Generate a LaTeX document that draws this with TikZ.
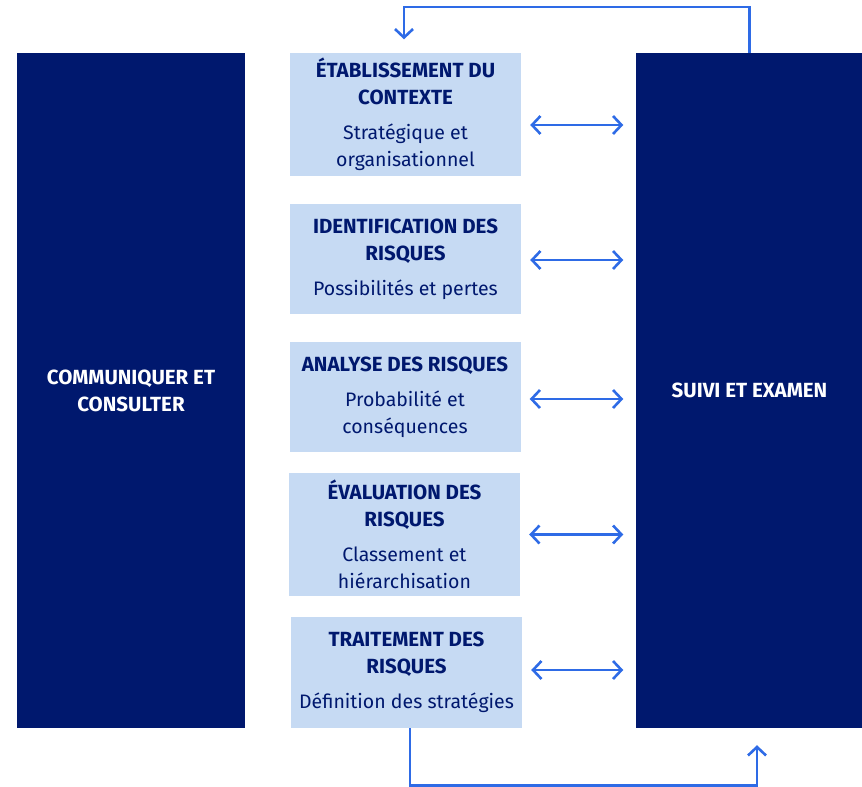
\documentclass[tikz,border=0pt]{standalone}
\usepackage{fontspec}
\setmainfont{Fira Sans}
\usetikzlibrary{arrows.meta}
\definecolor{navy}{HTML}{00186E}
\definecolor{pale}{HTML}{C6DAF3}
\definecolor{linkblue}{HTML}{2E6BE6}
\newcommand{\hd}[1]{{\fontsize{20.5}{27}\selectfont\bfseries #1}}
\begin{document}
\begin{tikzpicture}[x=1pt,y=-1pt]
          \useasboundingbox (0,0) rectangle (862,787);
          \tikzstyle{every node} = [inner sep=0pt, align=center, font=\fontsize{19.5}{27}\selectfont];
          \tikzstyle{side} = [fill=navy, text=white, minimum width=228pt, minimum height=675pt];
          \tikzstyle{stage} = [fill=pale, text=navy, minimum width=231pt];
          \tikzstyle{link} = [draw=linkblue, line width=2.6pt, >={Straight Barb[length=8.5pt,width=18pt]}];
          \node[side](c) at (131,390.5) {\hd{COMMUNIQUER ET}\\\hd{CONSULTER}};
          \node[side](s) at (749.5,390.5) {\hd{SUIVI ET EXAMEN}};
          \node[stage, minimum height=123pt](1) at (405.5,114) {\hd{ÉTABLISSEMENT DU}\\\hd{CONTEXTE}\\[8pt]Stratégique et\\organisationnel};
          \node[stage, minimum height=110pt](2) at (405.5,259) {\hd{IDENTIFICATION DES}\\\hd{RISQUES}\\[8pt]Possibilités et pertes};
          \node[stage, minimum height=110pt](3) at (405,397) {\hd{ANALYSE DES RISQUES}\\[8pt]Probabilité et\\conséquences};
          \node[stage, minimum height=123pt](4) at (404.5,534.5) {\hd{ÉVALUATION DES}\\\hd{RISQUES}\\[8pt]Classement et\\hiérarchisation};
          \node[stage, minimum height=111pt](5) at (406.5,672.5) {\hd{TRAITEMENT DES}\\\hd{RISQUES}\\[8pt]Définition des stratégies};
          \tikzstyle{every node} = []
          \draw[link, <->, shorten <=9pt, shorten >=12pt]
          ([yshift=-11pt]1.east) -- ([yshift=-11pt]1.east -| s.west);
          \draw[link, <->, shorten <=9pt, shorten >=12pt]
          ([yshift=-1pt]2.east) -- ([yshift=-1pt]2.east -| s.west);
          \draw[link, <->, shorten <=9pt, shorten >=12pt]
          ([yshift=-2pt]3.east) -- ([yshift=-2pt]3.east -| s.west);
          \draw[link, <->, shorten <=9pt, shorten >=12pt]
          (4.east) -- (4.east -| s.west);
          \draw[link, <->, shorten <=9pt, shorten >=12pt]
          ([yshift=2.5pt]5.east) -- ([yshift=2.5pt]5.east -| s.west);
          % feedback loops
          \draw[link, ->] (s.north) -- (s.north |- 0,7) -| ([xshift=-1.5pt,yshift=13pt]1.north);
          \draw[link, ->] ([xshift=3.5pt]5.south) -- ++(0,57) -| ([xshift=7.5pt,yshift=-17pt]s.south);
\end{tikzpicture}
\end{document}
